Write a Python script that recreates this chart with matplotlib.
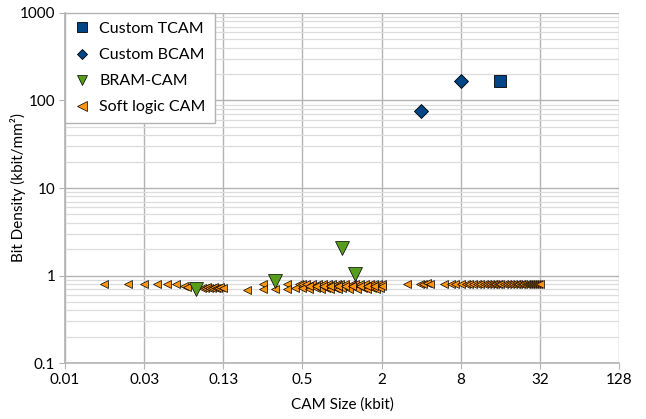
import matplotlib
matplotlib.use("Agg")
import matplotlib.pyplot as plt
from matplotlib.ticker import LogLocator, NullFormatter, FixedLocator, FixedFormatter

plt.rcParams['font.family'] = ['Lato', 'DejaVu Sans']

# ---- data ----
tcam_x = [16.0]
tcam_y = [166.0]

bcam_x = [4.0, 8.0]
bcam_y = [76.0, 167.0]

bram_x = [0.078, 0.31, 1.0, 1.25]
bram_y = [0.70, 0.86, 2.08, 1.05]

soft_x = [0.0156, 0.0234, 0.0313, 0.039, 0.047, 0.055, 0.0625, 0.0664,
          0.086, 0.090, 0.094, 0.098, 0.102, 0.106, 0.110, 0.114, 0.119, 0.125,
          0.19, 0.25, 0.25, 0.31, 0.38, 0.38, 0.44, 0.47, 0.5,
          0.5, 0.53, 0.56, 0.59, 0.63, 0.66, 0.69, 0.72, 0.75, 0.78, 0.81,
          0.84, 0.88, 0.91, 0.94, 0.97, 1.0, 1.06, 1.13, 1.19, 1.25,
          1.31, 1.38, 1.44, 1.5, 1.56, 1.63, 1.69, 1.75, 1.81, 1.88, 1.94, 2.0,
          0.56, 0.63, 0.72, 0.81, 0.94, 1.06, 1.19, 1.38, 1.56, 1.75, 2.0,
          3.1, 3.9, 4.1, 4.4, 4.7, 6.0, 6.7, 7.3, 8.0, 8.7, 9.3, 10.0,
          10.7, 11.3, 12.0, 12.7, 13.3, 14.0, 14.7, 15.3, 16.0,
          17, 18, 19, 20, 21, 22, 23, 24, 25, 26, 27, 28, 29, 30, 31, 32]
soft_y = [0.79, 0.79, 0.79, 0.79, 0.79, 0.79, 0.75, 0.73,
          0.72, 0.72, 0.73, 0.72, 0.72, 0.73, 0.72, 0.72, 0.73, 0.72,
          0.69, 0.80, 0.71, 0.71, 0.80, 0.71, 0.72, 0.80, 0.80,
          0.72, 0.80, 0.71, 0.79, 0.72, 0.80, 0.71, 0.79, 0.72, 0.80, 0.71,
          0.79, 0.72, 0.80, 0.71, 0.79, 0.72, 0.80, 0.71, 0.79, 0.80,
          0.71, 0.79, 0.72, 0.80, 0.71, 0.79, 0.72, 0.80, 0.71, 0.79, 0.72, 0.80,
          0.75, 0.76, 0.75, 0.76, 0.75, 0.76, 0.75, 0.76, 0.75, 0.76, 0.75,
          0.80, 0.79, 0.80, 0.82, 0.80, 0.79, 0.79, 0.79, 0.79, 0.79, 0.79, 0.79,
          0.79, 0.79, 0.79, 0.79, 0.79, 0.79, 0.79, 0.79, 0.79,
          0.79, 0.79, 0.79, 0.79, 0.79, 0.79, 0.79, 0.79, 0.79, 0.79, 0.79, 0.79, 0.79, 0.79, 0.79, 0.79]

x_ticks = [2**-7, 2**-5, 2**-3, 2**-1, 2**1, 2**3, 2**5, 2**7]
x_tick_labels = ['0.01', '0.03', '0.13', '0.5', '2', '8', '32', '128']
y_ticks = [0.1, 1, 10, 100, 1000]
y_tick_labels = ['0.1', '1', '10', '100', '1000']

fig = plt.figure(figsize=(6.46, 4.19), dpi=100)
L, R, T, B = 65, 619, 13, 363
ax = fig.add_axes([L/646, 1 - B/419, (R-L)/646, (B-T)/419])

ax.set_xscale('log', base=2)
ax.set_yscale('log')
ax.set_xlim(2**-7, 2**7)
ax.set_ylim(0.1, 1000)

ax.xaxis.set_major_locator(FixedLocator(x_ticks))
ax.xaxis.set_major_formatter(FixedFormatter(x_tick_labels))
ax.xaxis.set_minor_locator(FixedLocator([]))
ax.yaxis.set_major_locator(FixedLocator(y_ticks))
ax.yaxis.set_major_formatter(FixedFormatter(y_tick_labels))
ax.yaxis.set_minor_locator(LogLocator(base=10, subs=[2, 3, 4, 5, 6, 7, 8, 9]))
ax.yaxis.set_minor_formatter(NullFormatter())

ax.grid(True, which='major', color='#b3b3b3', linewidth=1.0)
ax.grid(True, which='minor', axis='y', color='#dcdcdc', linewidth=0.9)
ax.set_axisbelow(True)

for s in ['top', 'right']:
    ax.spines[s].set_visible(False)
for s in ['left', 'bottom']:
    ax.spines[s].set_color('#b3b3b3')
    ax.spines[s].set_linewidth(1.2)

ax.tick_params(axis='both', which='major', length=4, color='#b3b3b3',
               labelsize=11, labelcolor='#000000', pad=3)
ax.tick_params(axis='y', which='minor', length=0)

blue = '#004586'
green = '#579d1c'
orange = '#ff950e'

ax.plot(tcam_x, tcam_y, linestyle='none', marker='s', ms=8.5, mfc=blue,
        mec='#000000', mew=0.6, label='Custom TCAM', zorder=5)
ax.plot(bcam_x, bcam_y, linestyle='none', marker='D', ms=7, mfc=blue,
        mec='#000000', mew=0.6, label='Custom BCAM', zorder=5)
ax.plot(bram_x, bram_y, linestyle='none', marker='v', ms=10, mfc=green,
        mec='#000000', mew=0.5, label='BRAM-CAM', zorder=5)
ax.plot(soft_x, soft_y, linestyle='none', marker='<', ms=5.8, mfc=orange,
        mec='#000000', mew=0.5, label='Soft logic CAM', zorder=4)

leg = ax.legend(loc='upper left', bbox_to_anchor=(0.0, 1.0), fontsize=11.5,
                frameon=True, fancybox=False,
                handlelength=1.0, handletextpad=0.6, borderpad=0.55,
                labelspacing=0.75, borderaxespad=0.0)
for h, s in zip(leg.legend_handles, [6.5, 5.5, 7.0, 7.0]):
    h.set_markersize(s)
leg.get_frame().set_edgecolor('#b3b3b3')
leg.get_frame().set_linewidth(1.0)
leg.get_frame().set_facecolor('white')
leg.get_frame().set_alpha(1.0)

ax.set_xlabel('CAM Size (kbit)', fontsize=11, labelpad=8)
ax.set_ylabel('Bit Density (kbit/mm²)', fontsize=11)
ax.yaxis.set_label_coords((26 - L) / (R - L), 0.5)

fig.savefig('out.png', dpi=100)
